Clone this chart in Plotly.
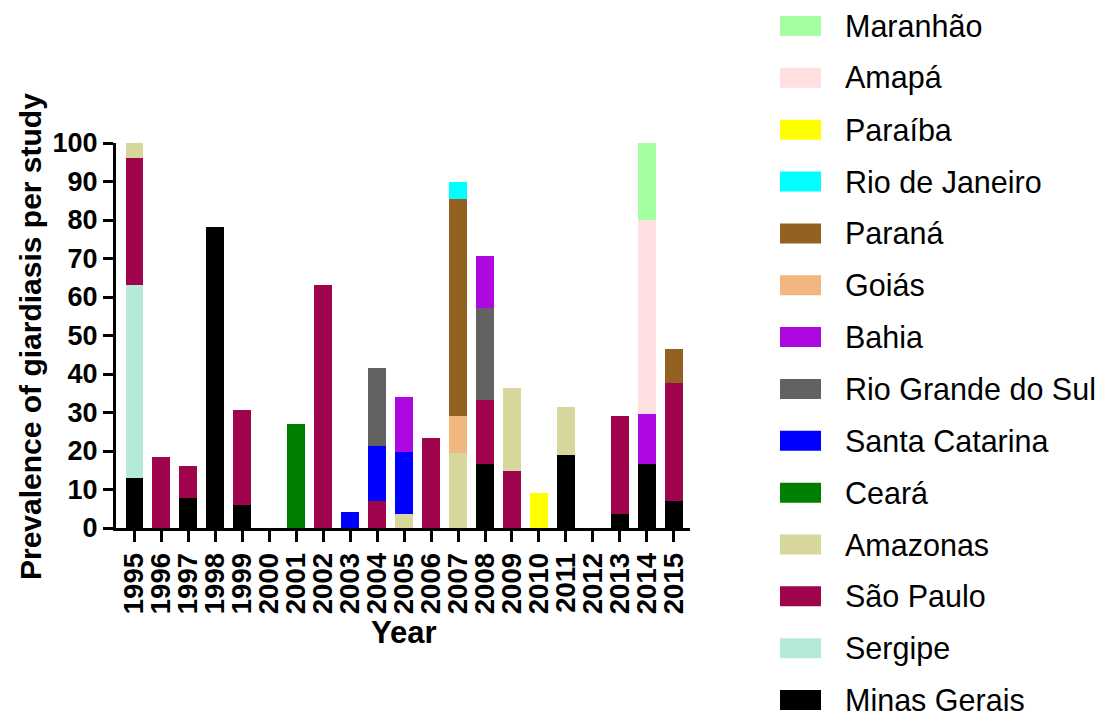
import plotly.graph_objects as go

# Study years on the x axis
years = list(range(1995, 2016))

# Prevalence (%) contributed by each state, one value per year (0 = no study)
minas_gerais      = [13.0, 0, 7.8, 78.1, 5.9, 0, 0, 0, 0, 0, 0, 0, 0, 16.5, 0, 0, 19.0, 0, 3.7, 16.5, 7.1]
sergipe           = [50.0, 0, 0, 0, 0, 0, 0, 0, 0, 0, 0, 0, 0, 0, 0, 0, 0, 0, 0, 0, 0]
sao_paulo         = [33.0, 18.4, 8.2, 0, 24.7, 0, 0, 63.0, 0, 7.1, 0, 23.4, 0, 16.7, 14.8, 0, 0, 0, 25.5, 0, 30.5]
amazonas          = [4.0, 0, 0, 0, 0, 0, 0, 0, 0, 0, 3.7, 0, 19.4, 0, 21.5, 0, 12.5, 0, 0, 0, 0]
ceara             = [0, 0, 0, 0, 0, 0, 27.1, 0, 0, 0, 0, 0, 0, 0, 0, 0, 0, 0, 0, 0, 0]
santa_catarina    = [0, 0, 0, 0, 0, 0, 0, 0, 4.1, 14.1, 16.0, 0, 0, 0, 0, 0, 0, 0, 0, 0, 0]
rio_grande_do_sul = [0, 0, 0, 0, 0, 0, 0, 0, 0, 20.3, 0, 0, 0, 24.0, 0, 0, 0, 0, 0, 0, 0]
bahia             = [0, 0, 0, 0, 0, 0, 0, 0, 0, 0, 14.4, 0, 0, 13.5, 0, 0, 0, 0, 0, 13.0, 0]
goias             = [0, 0, 0, 0, 0, 0, 0, 0, 0, 0, 0, 0, 9.8, 0, 0, 0, 0, 0, 0, 0, 0]
parana            = [0, 0, 0, 0, 0, 0, 0, 0, 0, 0, 0, 0, 56.2, 0, 0, 0, 0, 0, 0, 0, 8.9]
rio_de_janeiro    = [0, 0, 0, 0, 0, 0, 0, 0, 0, 0, 0, 0, 4.6, 0, 0, 0, 0, 0, 0, 0, 0]
paraiba           = [0, 0, 0, 0, 0, 0, 0, 0, 0, 0, 0, 0, 0, 0, 0, 9.1, 0, 0, 0, 0, 0]
amapa             = [0, 0, 0, 0, 0, 0, 0, 0, 0, 0, 0, 0, 0, 0, 0, 0, 0, 0, 0, 50.6, 0]
maranhao          = [0, 0, 0, 0, 0, 0, 0, 0, 0, 0, 0, 0, 0, 0, 0, 0, 0, 0, 0, 19.8, 0]

y_ticks = [0, 10, 20, 30, 40, 50, 60, 70, 80, 90, 100]

# Stacking order, bottom to top
series = [
    ("Minas Gerais", minas_gerais, "#000000"),
    ("Sergipe", sergipe, "#B5EAD7"),
    ("São Paulo", sao_paulo, "#A0044C"),
    ("Amazonas", amazonas, "#D7D69B"),
    ("Ceará", ceara, "#008000"),
    ("Santa Catarina", santa_catarina, "#0000FF"),
    ("Rio Grande do Sul", rio_grande_do_sul, "#626262"),
    ("Bahia", bahia, "#AE08E1"),
    ("Goiás", goias, "#F2B77E"),
    ("Paraná", parana, "#936220"),
    ("Rio de Janeiro", rio_de_janeiro, "#00FFFF"),
    ("Paraíba", paraiba, "#FFFF00"),
    ("Amapá", amapa, "#FFDFE0"),
    ("Maranhão", maranhao, "#A3FFA2"),
]

W, H = 1117, 713
L, R, T, B = 116, 427, 143, 185
PW, PH = W - L - R, H - T - B

def xp(px):
    return (px - L) / PW

def yp(py):
    return (H - B - py) / PH

FONT = "Liberation Sans, Arial, sans-serif"

fig = go.Figure()
for name, vals, color in series:
    fig.add_trace(go.Bar(
        x=years, y=vals, name=name, width=0.655,
        marker=dict(color=color, line=dict(width=0)),
        showlegend=False,
    ))

# Legend drawn as swatches + labels, top entry is the top of the stack
shapes, annotations = [], []
for i, (name, vals, color) in enumerate(reversed(series)):
    cy = 26 + i * 51.85
    shapes.append(dict(type="rect", xref="paper", yref="paper",
                       x0=xp(780), x1=xp(821), y0=yp(cy + 10), y1=yp(cy - 10),
                       fillcolor=color, line=dict(width=0)))
    annotations.append(dict(text=name, xref="paper", yref="paper",
                            x=xp(843), y=yp(cy), xanchor="left", yanchor="middle",
                            showarrow=False, font=dict(family=FONT, size=30.5, color="black")))

annotations.append(dict(text="Prevalence of giardiasis per study", xref="paper", yref="paper",
                        x=xp(30), y=yp(337), xanchor="center", yanchor="middle",
                        textangle=-90, showarrow=False,
                        font=dict(family=FONT, size=30, color="black", weight="bold")))
annotations.append(dict(text="Year", xref="paper", yref="paper",
                        x=xp(404), y=yp(632), xanchor="center", yanchor="middle",
                        showarrow=False,
                        font=dict(family=FONT, size=31, color="black", weight="bold")))

fig.update_layout(
    width=W, height=H,
    margin=dict(l=L, r=R, t=T, b=B, autoexpand=False),
    barmode="stack",
    paper_bgcolor="white", plot_bgcolor="white",
    shapes=shapes, annotations=annotations,
    xaxis=dict(
        range=[1994.32, 2015.6], tickmode="array", tickvals=years,
        ticktext=[str(y) for y in years], tickangle=-90,
        showline=True, linecolor="black", linewidth=3,
        ticks="outside", ticklen=11, tickwidth=3, tickcolor="black",
        showgrid=False, zeroline=False,
        tickfont=dict(family=FONT, size=27.5, color="black", weight="bold"),
    ),
    yaxis=dict(
        range=[0, 100], tickmode="array", tickvals=y_ticks,
        showline=True, linecolor="black", linewidth=3,
        ticks="outside", ticklen=10, tickwidth=3, tickcolor="black",
        showgrid=False, zeroline=False,
        tickfont=dict(family=FONT, size=27, color="black", weight="bold"),
    ),
)

fig.write_html("out.html")
